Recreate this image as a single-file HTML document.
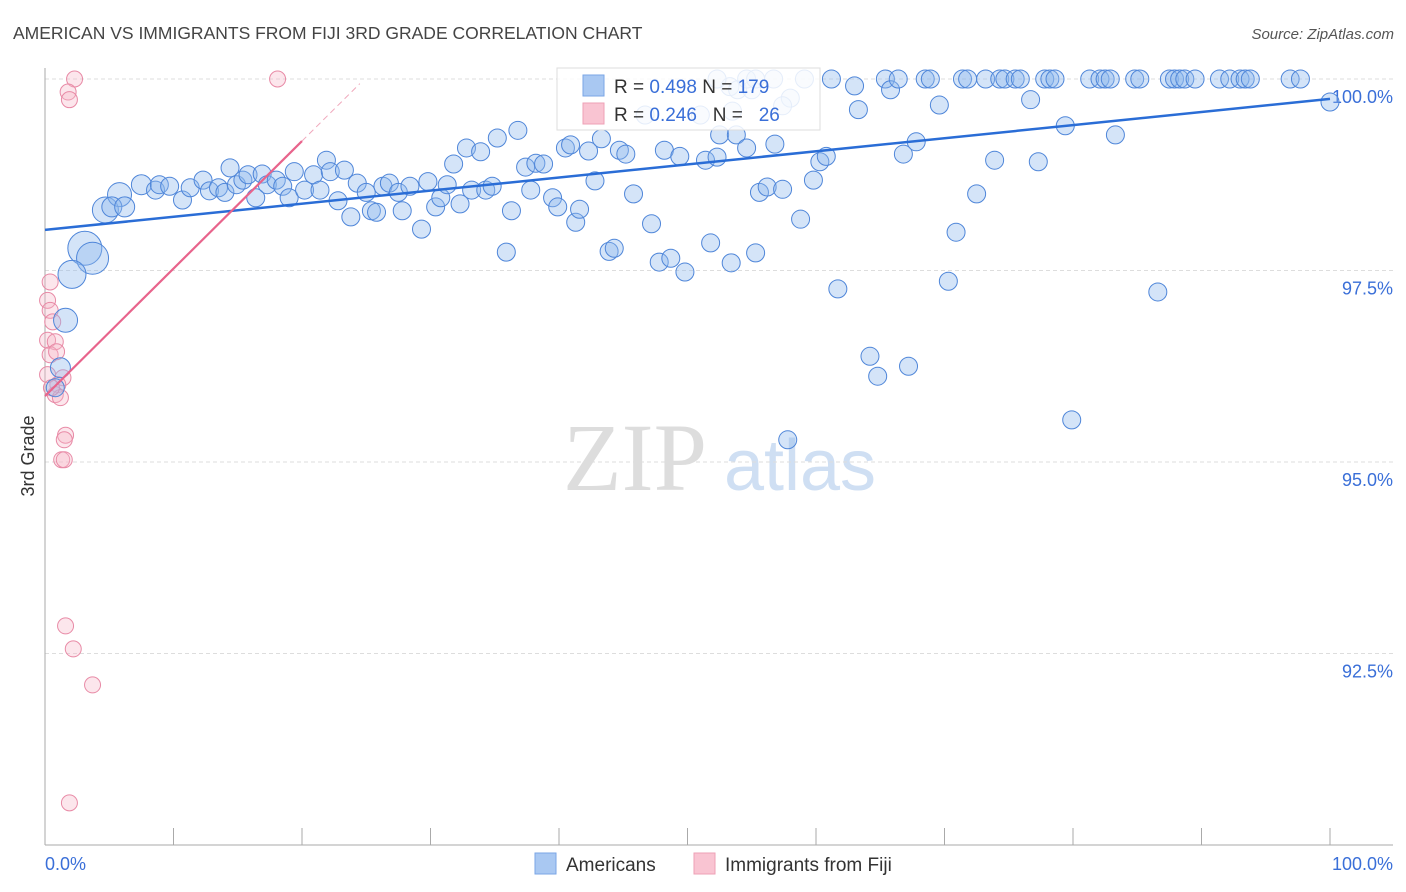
<!DOCTYPE html>
<html><head><meta charset="utf-8"><style>
body{margin:0;background:#fff;font-family:"Liberation Sans",sans-serif;}
svg{display:block}
</style></head><body>
<svg id="chart" width="1406" height="892">
<text x="13" y="39" font-size="17.5" fill="#444">AMERICAN VS IMMIGRANTS FROM FIJI 3RD GRADE CORRELATION CHART</text>
<text x="1394" y="39" font-size="15" fill="#555" font-style="italic" text-anchor="end">Source: ZipAtlas.com</text>
<text x="34" y="456" font-size="18" fill="#333" transform="rotate(-90 34 456)" text-anchor="middle">3rd Grade</text>
<g><text x="635" y="490" font-size="96" font-family="Liberation Serif,serif" fill="#ddd" text-anchor="middle">ZIP</text><text x="800" y="490" font-size="72" fill="#cfdff3" text-anchor="middle">atlas</text></g>
<g id="grid"></g><g id="axes"></g><g id="pts"></g><g id="trends"></g>
<g>
<rect x="557" y="68" width="263" height="62" fill="#fff" fill-opacity="0.85" stroke="#ddd"/>
<rect x="583" y="75" width="21" height="21" fill="#a9c8f2" stroke="#7aa6e6"/>
<rect x="583" y="103" width="21" height="21" fill="#f9c4d2" stroke="#eea0b6"/>
<text x="614" y="93" font-size="19" fill="#333">R = <tspan fill="#3a6fd8">0.498</tspan>   N = <tspan fill="#3a6fd8">179</tspan></text>
<text x="614" y="121" font-size="19" fill="#333" xml:space="preserve">R = <tspan fill="#3a6fd8">0.246</tspan>   N =   <tspan fill="#3a6fd8">26</tspan></text>
</g>
<g>
<rect x="535" y="853" width="21" height="21" fill="#a9c8f2" stroke="#7aa6e6"/>
<text x="566" y="871" font-size="19" fill="#333">Americans</text>
<rect x="694" y="853" width="21" height="21" fill="#f9c4d2" stroke="#eea0b6"/>
<text x="725" y="871" font-size="19" fill="#333">Immigrants from Fiji</text>
</g>
</svg>
<script>
const blueX=[3.1,3.7,2.1,1.6,4.7,5.8,5.2,6.2,1.2,0.8,7.5,8.6,8.9,9.7,10.7,11.3,12.3,12.8,13.5,14.0,14.4,14.9,15.4,15.8,16.4,16.9,17.3,18.0,18.5,19.0,19.4,20.2,20.9,21.4,21.9,22.2,22.8,23.3,23.8,24.3,25.0,25.4,25.8,26.3,26.8,27.5,27.8,28.4,29.3,29.8,30.4,30.8,31.3,31.8,32.3,32.8,33.2,33.9,34.3,34.8,35.2,35.9,36.3,36.8,37.4,37.8,38.2,38.8,39.5,39.9,40.5,40.9,41.3,41.6,42.3,42.8,43.3,43.9,44.3,44.7,45.2,45.8,46.7,47.2,47.8,48.2,48.7,49.4,49.8,51.0,51.4,51.8,52.3,52.5,53.4,53.8,54.6,55.3,55.6,56.2,56.8,57.4,58.0,58.8,59.1,59.8,60.3,60.8,61.2,61.7,63.0,63.3,64.2,64.8,65.4,65.8,66.4,66.8,67.2,67.8,68.5,68.9,69.6,70.3,70.9,71.4,71.8,72.5,73.2,73.9,74.3,74.7,75.5,75.9,76.7,77.3,77.8,78.2,78.6,79.4,79.9,81.3,82.1,82.5,82.9,83.3,84.8,85.2,86.6,87.5,87.9,88.3,88.7,89.5,91.4,92.2,93.0,93.4,93.8,96.9,97.7,100,57.8,53.3,53.9,55.0,53.5,57.4,54.6,55.3,56.7,52.3];
const blueY=[97.79,97.66,97.45,96.85,98.29,98.49,98.33,98.33,96.23,95.97,98.62,98.55,98.62,98.60,98.42,98.58,98.68,98.54,98.58,98.52,98.84,98.62,98.68,98.75,98.45,98.76,98.62,98.68,98.60,98.45,98.79,98.55,98.75,98.55,98.94,98.79,98.41,98.81,98.20,98.64,98.52,98.28,98.26,98.60,98.64,98.52,98.28,98.60,98.04,98.66,98.33,98.45,98.62,98.89,98.37,99.10,98.55,99.05,98.55,98.60,99.23,97.74,98.28,99.33,98.85,98.55,98.90,98.89,98.45,98.33,99.10,99.14,98.13,98.30,99.06,98.67,99.22,97.75,97.79,99.07,99.02,98.50,99.53,98.11,97.61,99.07,97.66,98.99,97.48,99.53,98.94,97.86,98.98,99.27,97.60,99.27,99.10,97.73,98.52,98.59,99.15,98.56,99.75,98.17,100,98.68,98.92,98.99,100,97.26,99.91,99.60,96.38,96.12,100,99.86,100,99.02,96.25,99.18,100,100,99.66,97.36,98.00,100,100,98.50,100,98.94,100,100,100,100,99.73,98.92,100,100,100,99.39,95.55,100,100,100,100,99.27,100,100,97.22,100,100,100,100,100,100,100,100,100,100,100,100,99.70,95.29,99.9,99.86,99.86,99.58,99.65,100,100,100,100];
const blueR=[17,16,14,12,13,12,10,10,10,9,10,9];
const pinkX=[2.3,18.1,1.8,1.9,0.4,0.2,0.4,0.6,0.2,0.8,0.4,0.9,1.4,1.0,0.8,1.2,1.6,1.5,1.3,1.5,1.6,2.2,3.7,1.9,0.2,0.5];
const pinkY=[100,100,99.83,99.73,97.35,97.11,96.98,96.83,96.59,96.57,96.40,96.44,96.10,96.01,95.88,95.84,95.35,95.29,95.03,95.03,92.86,92.56,92.09,90.55,96.14,95.97];
const yTicks=[100,97.5,95,92.5];
const yTickLabels=["100.0%","97.5%","95.0%","92.5%"];
const blueTrend=[98.03,99.74];
const pinkTrend=[95.86,0.1665];
const NS="http://www.w3.org/2000/svg";
const sx=v=>45+v*12.85;
const sy=v=>79+(100-v)*76.6;
function mk(tag,attrs,parent){const e=document.createElementNS(NS,tag);for(const k in attrs)e.setAttribute(k,attrs[k]);document.getElementById(parent).appendChild(e);return e;}
yTicks.forEach((t,i)=>{
 const l=mk('line',{x1:45,x2:1393,y1:sy(t),y2:sy(t),stroke:'#ddd','stroke-dasharray':'4,3'},'grid');
 
 
 const tx=mk('text',{x:1393,y:sy(t)+24,'font-size':18,fill:'#3a6fd8','text-anchor':'end'},'axes');
 tx.textContent=yTickLabels[i];
 
 
});
const ya=mk('line',{x1:45,x2:45,y1:68,y2:845,stroke:'#aaa'},'axes');


const xa=mk('line',{x1:45,x2:1393,y1:845,y2:845,stroke:'#aaa'},'axes');


for(let i=0;i<=10;i++){const t=mk('line',{x1:sx(i*10),x2:sx(i*10),y1:828,y2:845,stroke:'#aaa'},'axes');
 
 }
const x0=mk('text',{x:45,y:870,'font-size':18,fill:'#3a6fd8'},'axes');x0.textContent='0.0%';


const x1=mk('text',{x:1393,y:870,'font-size':18,fill:'#3a6fd8','text-anchor':'end'},'axes');x1.textContent='100.0%';


pinkX.forEach((x,i)=>{const c=mk('circle',{cx:sx(x),cy:sy(pinkY[i]),r:8,fill:'#f7b6c8','fill-opacity':0.35,stroke:'#e88aa6','stroke-width':1},'pts');
 
 });
blueX.forEach((x,i)=>{const c=mk('circle',{cx:sx(x),cy:sy(blueY[i]),r:blueR[i]||9,fill:'#8fb7ec','fill-opacity':0.38,stroke:'#4f86d9','stroke-width':1},'pts');
 
 });
const bt=mk('line',{x1:sx(0),y1:sy(blueTrend[0]),x2:sx(100),y2:sy(blueTrend[1]),stroke:'#2a6dd6','stroke-width':2.5},'trends');


const pt=mk('line',{x1:sx(0),y1:sy(pinkTrend[0]),x2:sx(20),y2:sy(pinkTrend[0]+20*pinkTrend[1]),stroke:'#e8648c','stroke-width':2.2},'trends');


const pd=mk('line',{x1:sx(20),y1:sy(pinkTrend[0]+20*pinkTrend[1]),x2:sx(24.5),y2:sy(pinkTrend[0]+24.5*pinkTrend[1]),stroke:'#f0a8bc','stroke-width':1,'stroke-dasharray':'6,4'},'trends');


</script>
</body></html>
